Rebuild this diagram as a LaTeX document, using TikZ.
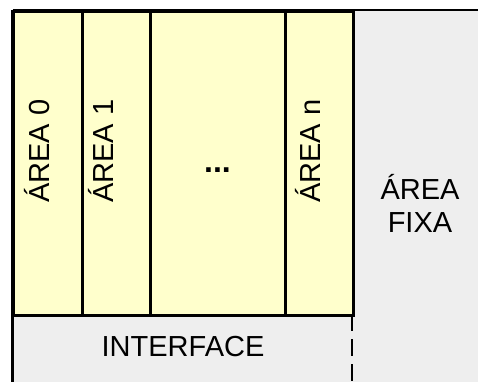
\documentclass[tikz,border=0pt]{standalone}
\usepackage{fontspec}
\setmainfont{Liberation Sans}
\definecolor{areayellow}{HTML}{FFFFCC}
\definecolor{areagray}{HTML}{EEEEEE}
\tikzset{
  areacol/.style={draw=black, line width=2.6pt, fill=areayellow, rectangle, inner sep=0pt},
  lbl/.style={font=\fontsize{29}{33}\selectfont, inner sep=0pt},
  vlbl/.style={lbl, rotate=90, anchor=base west},
  edge/.style={line width=2.6pt, black}
}
\begin{document}
\begin{tikzpicture}[x=1pt, y=-1pt]
\useasboundingbox (0,0) rectangle (478,381);
% gray background (fixed area + interface)
\fill[areagray] (12.5,10) rectangle (480,383);
% columns
\node[areacol, minimum width=68.5pt, minimum height=304pt, anchor=north west] (a0) at (12.5,10) {};
\node[areacol, minimum width=68pt, minimum height=304pt, anchor=north west] (a1) at (81,10) {};
\node[areacol, minimum width=135pt, minimum height=304pt, anchor=north west] (ad) at (149,10) {};
\node[areacol, minimum width=68pt, minimum height=304pt, anchor=north west] (an) at (284,10) {};
% outer borders
\coordinate (tl) at (12.5,10);
\coordinate (tr) at (480,10);
\coordinate (bl) at (12.5,383);
\draw[edge] (tl) -- (tr);
\draw[edge] (tl) -- (bl);
\coordinate (dtop) at (352,314);
\coordinate (dbot) at (352,383);
\draw[edge, dash pattern=on 17pt off 8pt] (dtop) -- (dbot);
% labels
\node[vlbl] (t0) at (49,203) {ÁREA 0};
\node[vlbl] (t1) at (113,203) {ÁREA 1};
\node[vlbl] (tn) at (320,203) {ÁREA n};
\node[lbl, anchor=base, font=\fontsize{32}{33}\selectfont\bfseries] (td) at (217.5,172) {...};
\node[lbl, align=center] (tf) at (420,203) {ÁREA\\FIXA};
\node[lbl] (ti) at (183,347) {INTERFACE};
\end{tikzpicture}
\end{document}
